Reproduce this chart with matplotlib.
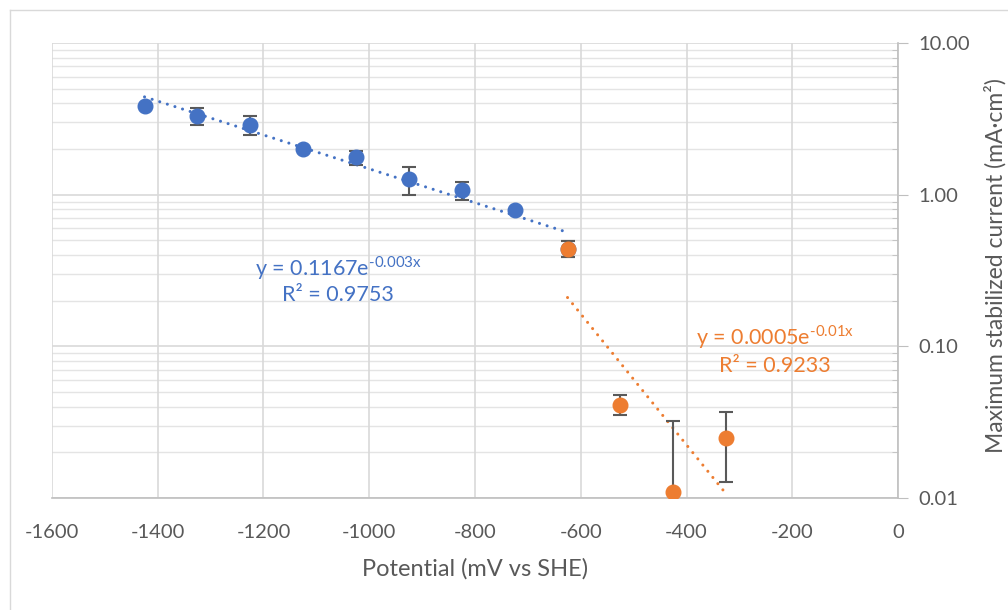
import numpy as np
import matplotlib.pyplot as plt
from matplotlib.lines import Line2D
from matplotlib.ticker import FixedLocator, LogLocator, NullFormatter

plt.rcParams['font.family'] = ['Lato', 'DejaVu Sans']
plt.rcParams['mathtext.fontset'] = 'custom'
plt.rcParams['mathtext.rm'] = 'Lato'

# data
blue_x = [-1425, -1325, -1225, -1125, -1025, -925, -825, -725, -625]
blue_y = [3.85, 3.32, 2.88, 2.0, 1.76, 1.26, 1.07, 0.79, 0.44]
blue_err = [0, 0.43, 0.42, 0, 0.19, 0.26, 0.15, 0, 0.053]
orange_x = [-625, -525, -425, -325]
orange_y = [0.44, 0.0413, 0.011, 0.0249]
orange_err = [0.053, 0.0062, 0.0214, 0.0122]

blue_c = '#4472C4'
orange_c = '#ED7D31'
grid_c = '#D9D9D9'
text_c = '#595959'

fig = plt.figure(figsize=(10.08, 6.10), dpi=100)
ax = fig.add_axes([52/1008, 1-498/610, 846/1008, 455/610])

# exponential trendlines fitted on log values
def exp_fit(x, y):
    k, b = np.polyfit(np.array(x), np.log(np.array(y)), 1)
    xs = np.linspace(min(x), max(x), 100)
    return xs, np.exp(b + k*xs)

xs, ys = exp_fit(blue_x, blue_y)
ax.plot(xs, ys, color=blue_c, lw=2.2, ls=(0, (0.01, 2.6)), dash_capstyle='round', zorder=3)
xs, ys = exp_fit(orange_x, orange_y)
ax.plot(xs, ys, color=orange_c, lw=2.2, ls=(0, (0.01, 2.6)), dash_capstyle='round', zorder=3)

ax.errorbar(blue_x, blue_y, yerr=blue_err, fmt='o', color=blue_c, ms=10.5,
            ecolor='#595959', elinewidth=1.5, capsize=5, capthick=1.5, zorder=4)
ax.errorbar(orange_x, orange_y, yerr=orange_err, fmt='o', color=orange_c, ms=10.5,
            ecolor='#595959', elinewidth=1.5, capsize=5, capthick=1.5, zorder=5)

ax.set_yscale('log')
ax.set_xlim(-1600, 0)
ax.set_ylim(0.01, 10)

ax.xaxis.set_major_locator(FixedLocator(np.arange(-1600, 1, 200)))
ax.set_xticklabels([str(v) for v in range(-1600, 1, 200)])
ax.yaxis.set_major_locator(FixedLocator([0.01, 0.1, 1, 10]))
ax.set_yticklabels(['0.01', '0.10', '1.00', '10.00'])
ax.yaxis.set_minor_locator(LogLocator(base=10, subs=np.arange(2, 10)))
ax.yaxis.set_minor_formatter(NullFormatter())

ax.yaxis.tick_right()
ax.yaxis.set_label_position('right')
ax.tick_params(axis='x', length=0, pad=19, labelsize=14.5, labelcolor=text_c)
ax.tick_params(axis='y', which='major', direction='out', length=7, color='#BFBFBF',
               pad=8, labelsize=14.5, labelcolor=text_c)
ax.tick_params(axis='y', which='minor', direction='in', length=4, color='#BFBFBF')

ax.grid(True, which='major', axis='both', color=grid_c, lw=1.2, zorder=0)
ax.grid(True, which='minor', axis='y', color=grid_c, lw=1.0, alpha=0.7, zorder=0)
ax.set_axisbelow(True)

for s in ['top', 'left']:
    ax.spines[s].set_visible(False)
ax.spines['bottom'].set_color('#BFBFBF')
ax.spines['right'].set_color('#BFBFBF')
ax.spines['bottom'].set_linewidth(1.2)
ax.spines['right'].set_linewidth(1.2)

ax.set_xlabel('Potential (mV vs SHE)', fontsize=17, color=text_c, labelpad=12)
ax.set_ylabel('Maximum stabilized current (mA·cm²)', fontsize=16.5, color=text_c)
ax.yaxis.set_label_coords(1.102, 0.51)

ax.text(-1059, 0.329, r'y = 0.1167e$^{\text{-0.003x}}$', color=blue_c, fontsize=15.5,
        ha='center', va='center')
ax.text(-1059, 0.218, 'R² = 0.9753', color=blue_c, fontsize=15.5, ha='center', va='center')
ax.text(-233, 0.1153, r'y = 0.0005e$^{\text{-0.01x}}$', color=orange_c, fontsize=15.5,
        ha='center', va='center')
ax.text(-233, 0.0743, 'R² = 0.9233', color=orange_c, fontsize=15.5, ha='center', va='center')

# chart area border
fig.add_artist(Line2D([10/1008, 1], [1-10/610, 1-10/610], color=grid_c, lw=1))
fig.add_artist(Line2D([10/1008, 10/1008], [0, 1-10/610], color=grid_c, lw=1))

fig.savefig('out.png', dpi=100)
